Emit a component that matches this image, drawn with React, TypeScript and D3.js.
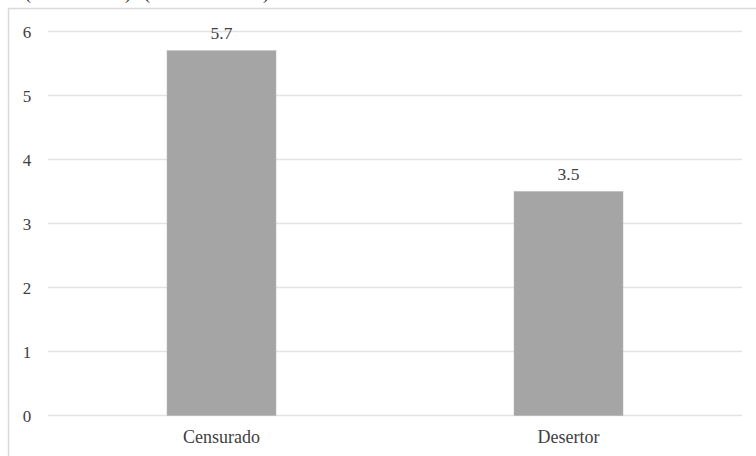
import React from "react";
import * as d3 from "d3";

const categories = ["Censurado", "Desertor"];
const values = [5.7, 3.5];
const yTicks = [0, 1, 2, 3, 4, 5, 6];
const topParens = ["(", ")", "(", ")"];
const topParenX = [28, 128, 147, 266];

export default function App() {
  const W = 756, H = 456;
  const left = 48, right = 742, top = 31.5, bottom = 415.5;
  const x = d3.scaleBand<string>().domain(categories).range([left, right]).paddingInner(0.686).paddingOuter(0.343);
  const y = d3.scaleLinear().domain([0, 6]).range([bottom, top]);
  const font = { fontFamily: "'Times New Roman', Times, Tinos, 'Liberation Serif', 'DejaVu Serif', 'Noto Serif', serif" };
  return (
    <svg width={W} height={H} style={{ position: "absolute", left: 0, top: 0, background: "#fff" }}>
      <rect x={0} y={0} width={W} height={H} fill="#fff" />
      {topParens.map((p, i) => (
        <text key={i} x={topParenX[i]} y={-1} style={font} fontSize={18} fill="#222" textAnchor="middle">{p}</text>
      ))}
      <path d={`M8.5,${H}V8.5H${W}`} fill="none" stroke="#d9d9d9" strokeWidth={1.5} />
      {yTicks.map((t) => (
        <g key={t}>
          <line x1={left} x2={right} y1={y(t)} y2={y(t)} stroke="#e3e3e3" strokeWidth={1.5} />
          <text x={27} y={y(t) + 6} textAnchor="middle" style={font} fontSize={17} fill="#404040">{t}</text>
        </g>
      ))}
      {categories.map((c, i) => (
        <g key={c}>
          <rect x={x(c)} y={y(values[i])} width={x.bandwidth()} height={bottom - y(values[i])} fill="#a5a5a5" stroke="#b0b0b0" strokeWidth={0.5} />
          <text x={(x(c) as number) + x.bandwidth() / 2} y={y(values[i]) - 12} textAnchor="middle" style={font} fontSize={17.5} fill="#404040">{values[i]}</text>
          <text x={(x(c) as number) + x.bandwidth() / 2} y={443} textAnchor="middle" style={font} fontSize={18} fill="#404040">{c}</text>
        </g>
      ))}
    </svg>
  );
}
